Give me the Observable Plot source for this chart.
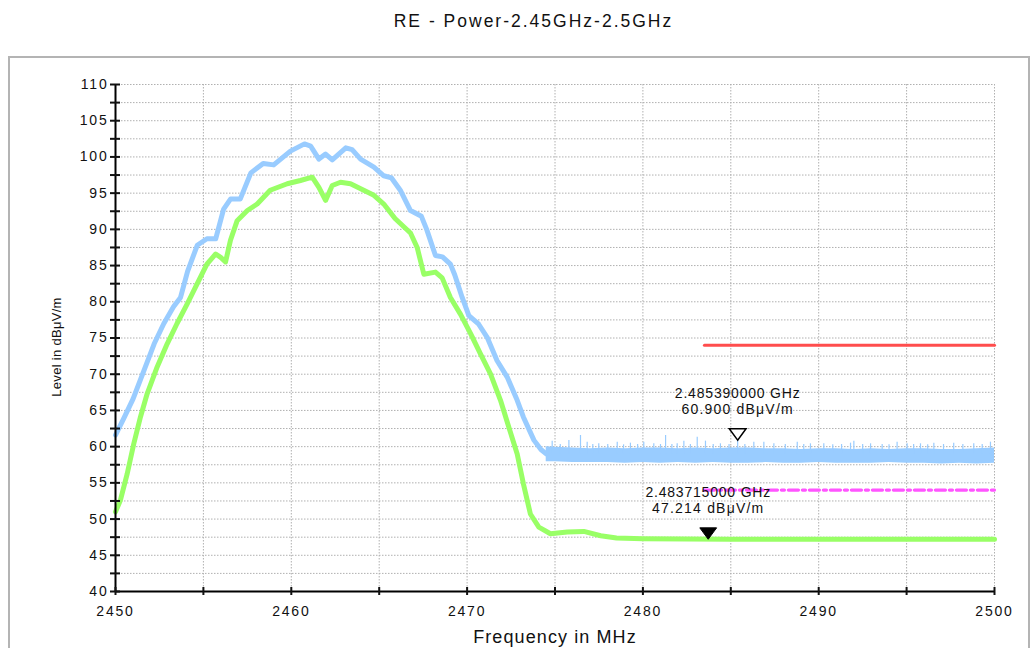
<!DOCTYPE html>
<html>
<head>
<meta charset="utf-8">
<script src="https://cdn.jsdelivr.net/npm/d3@7"></script>
<script src="https://cdn.jsdelivr.net/npm/@observablehq/plot@0.6"></script>
<style>
html, body { margin: 0; padding: 0; background: #fff; }
#wrap { position: relative; width: 1033px; height: 648px; overflow: hidden; font-family: "Liberation Sans", Arial, sans-serif; }
#title { position: absolute; left: 0; top: 0; width: 1067px; text-align: center; font-size: 17.5px; letter-spacing: 2px; line-height: 1; padding-top: 13px; color: #111; }
#frame { position: absolute; left: 8px; top: 56px; width: 1018px; height: 640px; border: 2px solid #b4b4b4; }
#chart { position: absolute; left: 0; top: 0; }
#chart svg { background: transparent; }
g[aria-label="y-axis tick label"] text, g[aria-label="x-axis tick label"] text { letter-spacing: 1.8px; }
</style>
</head>
<body>
<div id="wrap">
  <div id="title"></div>
  <div id="frame"></div>
  <div id="chart"></div>
</div>
<script>
// ---------- data ----------
const titleText = "RE - Power-2.45GHz-2.5GHz";
const xTitle = "Frequency in MHz";
const yTitle = "Level in dBμV/m";

const xMinorTicks = [2450, 2455, 2460, 2465, 2470, 2475, 2480, 2485, 2490, 2495, 2500];
const xLabelTicks = [2450, 2460, 2470, 2480, 2490, 2500];
const yMinorTicks = [40, 42.5, 45, 47.5, 50, 52.5, 55, 57.5, 60, 62.5, 65, 67.5, 70, 72.5, 75, 77.5, 80, 82.5, 85, 87.5, 90, 92.5, 95, 97.5, 100, 102.5, 105, 107.5, 110];
const yLabelTicks = [40, 45, 50, 55, 60, 65, 70, 75, 80, 85, 90, 95, 100, 105, 110];

// Peak trace (blue) – smooth part
const blueFreq = [2450.0, 2450.45, 2451.0, 2451.6, 2452.2, 2452.75, 2453.3, 2453.7, 2454.1, 2454.65, 2455.2, 2455.7, 2456.15, 2456.55, 2457.1, 2457.7, 2458.4, 2459.0, 2459.95, 2460.75, 2461.1, 2461.57, 2461.95, 2462.33, 2463.1, 2463.46, 2463.94, 2464.7, 2465.26, 2465.7, 2466.2, 2466.78, 2467.4, 2467.7, 2468.2, 2468.6, 2469.05, 2469.3, 2469.72, 2470.1, 2470.66, 2471.14, 2471.7, 2472.28, 2472.85, 2473.2, 2473.8, 2474.2, 2474.5];
const blueLevel = [61.6, 63.8, 66.6, 70.4, 74.2, 77.0, 79.3, 80.6, 84.2, 87.8, 88.7, 88.7, 92.8, 94.2, 94.2, 97.8, 99.1, 98.9, 100.8, 101.8, 101.5, 99.7, 100.4, 99.6, 101.25, 101.0, 99.7, 98.6, 97.4, 97.1, 95.4, 92.6, 91.8, 90.0, 86.4, 86.2, 85.2, 83.7, 80.6, 78.1, 76.9, 75.1, 71.9, 69.6, 66.4, 64.1, 60.9, 59.6, 59.0];

// Peak trace (blue) – noise floor envelope
const noiseFreq = [2474.5, 2475, 2476, 2477, 2478, 2479, 2480, 2481, 2482, 2483, 2484, 2485, 2486, 2487, 2488, 2489, 2490, 2491, 2492, 2493, 2494, 2495, 2496, 2497, 2498, 2499, 2500];
const noiseHi = [60.0, 59.9, 59.8, 59.7, 59.8, 59.7, 59.8, 59.8, 59.7, 59.8, 59.7, 59.8, 59.8, 59.7, 59.7, 59.6, 59.7, 59.7, 59.6, 59.7, 59.6, 59.7, 59.7, 59.6, 59.6, 59.7, 59.8];
const noiseLo = [57.9, 57.9, 57.8, 57.8, 57.8, 57.7, 57.8, 57.7, 57.8, 57.7, 57.8, 57.7, 57.7, 57.8, 57.7, 57.7, 57.8, 57.7, 57.7, 57.7, 57.8, 57.7, 57.7, 57.6, 57.7, 57.6, 57.7];
const spikeFreq = [2474.84, 2475.3, 2475.79, 2476.45, 2476.83, 2477.15, 2477.49, 2478.0, 2478.54, 2478.9, 2479.29, 2479.7, 2480.05, 2480.62, 2481.0, 2481.29, 2481.65, 2481.95, 2482.33, 2482.7, 2483.09, 2483.56, 2484.0, 2484.41, 2484.9, 2485.39, 2485.8, 2486.31, 2486.88, 2487.45, 2488.1, 2488.78, 2489.15, 2489.53, 2490.29, 2490.8, 2491.3, 2491.81, 2492.0, 2492.5, 2492.95, 2493.61, 2494.0, 2494.46, 2495.03, 2495.4, 2495.79, 2496.2, 2496.55, 2497.1, 2497.68, 2498.2, 2498.82, 2499.3, 2499.77];
const spikeTop = [60.76, 60.3, 60.85, 61.54, 60.62, 60.3, 60.39, 60.3, 60.62, 60.25, 60.48, 60.3, 60.62, 60.39, 60.3, 61.54, 60.3, 60.39, 60.76, 60.3, 61.3, 60.76, 60.3, 60.39, 60.3, 61.0, 60.3, 60.62, 60.62, 60.39, 60.3, 60.62, 60.3, 60.39, 60.39, 60.25, 60.3, 60.48, 60.76, 60.3, 60.39, 60.3, 60.25, 60.62, 60.39, 60.3, 60.39, 60.25, 60.48, 60.3, 60.48, 60.3, 60.39, 60.3, 60.62];

// Average trace (green)
const greenFreq = [2450.0, 2450.28, 2450.66, 2451.04, 2451.42, 2451.8, 2452.37, 2452.94, 2453.5, 2454.08, 2454.65, 2455.2, 2455.7, 2456.0, 2456.26, 2456.54, 2456.92, 2457.5, 2458.06, 2458.8, 2459.77, 2460.52, 2461.19, 2461.57, 2461.95, 2462.33, 2462.8, 2463.37, 2464.12, 2464.7, 2465.26, 2465.9, 2466.78, 2467.16, 2467.54, 2468.2, 2468.58, 2469.05, 2469.62, 2470.2, 2470.76, 2471.33, 2471.9, 2472.37, 2472.85, 2473.2, 2473.6, 2474.08, 2474.74, 2475.7, 2476.64, 2477.6, 2478.5, 2480, 2485, 2490, 2495, 2500];
const greenLevel = [51.0, 52.6, 56.2, 60.4, 64.1, 67.3, 71.0, 74.2, 77.0, 79.7, 82.5, 85.2, 86.6, 86.1, 85.5, 88.5, 91.2, 92.6, 93.5, 95.4, 96.3, 96.75, 97.2, 95.8, 94.0, 96.05, 96.5, 96.3, 95.4, 94.7, 93.5, 91.5, 89.5, 87.5, 83.8, 84.1, 83.3, 80.6, 78.3, 75.6, 72.8, 70.05, 66.4, 62.7, 59.0, 54.9, 50.7, 48.9, 47.97, 48.2, 48.3, 47.7, 47.4, 47.3, 47.2, 47.2, 47.2, 47.2];

// Limit lines
const limitFreq = [2483.5, 2500];
const peakLimit = [74, 74];
const avgLimit = [54, 54];

// Markers
const markerFreq = [2485.39, 2483.715];
const markerLevel = [60.9, 47.214];
const markerFreqLabel = ["2.485390000 GHz", "2.483715000 GHz"];
const markerLevelLabel = ["60.900 dBμV/m", "47.214 dBμV/m"];

// ---------- chart ----------
const BLUE = "#99ccff", GREEN = "#99ff66";
const markers = markerFreq.map((f, i) => ({f, level: markerLevel[i], fl: markerFreqLabel[i], ll: markerLevelLabel[i]}));

const downTri = {
  draw(context, size) {
    const r = Math.sqrt(size / Math.PI);
    const w = r * 1.4, h = r * 1.9;
    context.moveTo(0, 0);
    context.lineTo(-w, -h);
    context.lineTo(w, -h);
    context.closePath();
  }
};

document.getElementById("title").textContent = titleText;

const grid = {stroke: "#b0b0b0", strokeOpacity: 1, strokeDasharray: "1.5,1.5", strokeWidth: 1};

const chart = Plot.plot({
  width: 1033,
  height: 648,
  marginLeft: 115,
  marginRight: 39,
  marginTop: 84,
  marginBottom: 57,
  x: {domain: [2450, 2500]},
  y: {domain: [40, 110]},
  style: {fontFamily: "'Liberation Sans', Arial, sans-serif", fontSize: "14px", background: "transparent", color: "#111"},
  marks: [
    Plot.gridY(yMinorTicks, grid),
    Plot.gridX(xMinorTicks, grid),
    Plot.line(limitFreq, {x: limitFreq, y: peakLimit, stroke: "#ff4d4d", strokeWidth: 3}),
    Plot.line(limitFreq, {x: limitFreq, y: avgLimit, stroke: "#ff55ff", strokeWidth: 3.3, strokeDasharray: "10,4,3,4"}),
    Plot.areaY(noiseFreq, {x: noiseFreq, y1: noiseLo, y2: noiseHi, fill: BLUE}),
    Plot.ruleX(spikeFreq, {x: spikeFreq, y1: 59, y2: spikeTop, stroke: BLUE, strokeWidth: 1.2}),
    Plot.line(blueFreq, {x: blueFreq, y: blueLevel, stroke: BLUE, strokeWidth: 5, strokeLinejoin: "round"}),
    Plot.line(greenFreq, {x: greenFreq, y: greenLevel, stroke: GREEN, strokeWidth: 5, strokeLinejoin: "round"}),
    Plot.ruleX([2450], {stroke: "#000", strokeWidth: 2}),
    Plot.ruleY([40], {stroke: "#000", strokeWidth: 2}),
    Plot.axisY(yMinorTicks, {tickSize: 10, dx: 5, tickFormat: () => "", strokeWidth: 2, label: null}),
    Plot.axisY(yLabelTicks, {tickSize: 0, tickPadding: 7, label: null, tickFormat: d => String(d)}),
    Plot.axisX(xMinorTicks, {tickSize: 8, dy: -4, tickFormat: () => "", strokeWidth: 2, label: null}),
    Plot.axisX(xLabelTicks, {tickSize: 0, tickPadding: 15, label: null, tickFormat: d => String(d)}),
    Plot.text([xTitle], {text: d => d, frameAnchor: "bottom", lineAnchor: "middle", textAnchor: "middle", dy: 46, fontSize: 18, fill: "#111"}),
    Plot.text([yTitle], {text: d => d, frameAnchor: "left", lineAnchor: "middle", textAnchor: "middle", rotate: -90, dx: -59, dy: 9, fontSize: 13, fill: "#111"}),
    Plot.dot(markers.slice(0, 1), {x: "f", y: "level", symbol: downTri, r: 6, fill: "white", stroke: "#000", strokeWidth: 1.5}),
    Plot.dot(markers.slice(1, 2), {x: "f", y: "level", symbol: downTri, r: 6, fill: "#000", stroke: "#000", strokeWidth: 1}),
    Plot.text(markers, {x: "f", y: "level", text: "fl", dy: -46.5, fontSize: 14, fill: "#111"}),
    Plot.text(markers, {x: "f", y: "level", text: "ll", dy: -30.3, fontSize: 14, fill: "#111"})
  ]
});

// letter spacing for the text marks (in mark order: x title, y title, marker freq, marker level)
const textGroups = chart.querySelectorAll('g[aria-label="text"]');
const spacing = ["1.1px", "0.3px", "0.8px", "1.2px"];
textGroups.forEach((g, i) => { if (spacing[i]) g.style.letterSpacing = spacing[i]; });

document.getElementById("chart").appendChild(chart);
</script>
</body>
</html>
